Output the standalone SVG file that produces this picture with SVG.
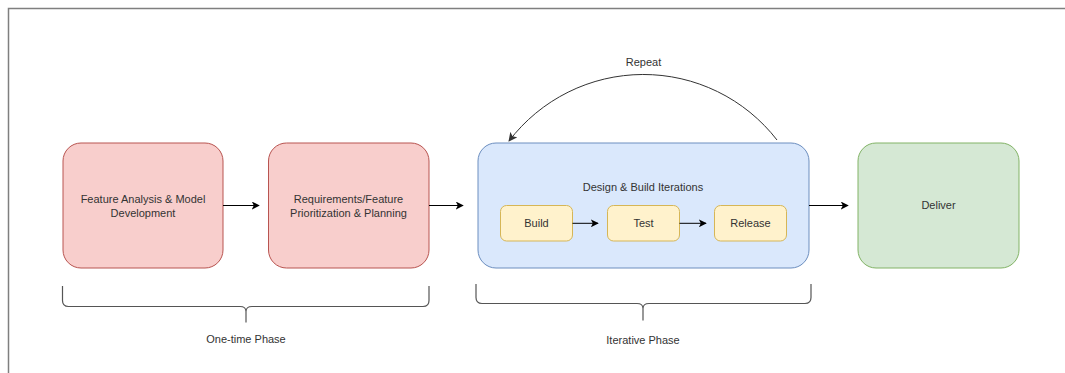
<svg xmlns="http://www.w3.org/2000/svg" width="1065" height="373" viewBox="0 0 1065 373">
  <style>
    .lbl { font-family: "Liberation Sans", Arial, sans-serif; font-size: 11px; fill: #333333; text-anchor: middle; }
    .red { fill: #f8cecc; stroke: #b85450; stroke-width: 1; }
    .blue { fill: #dae8fc; stroke: #6c8ebf; stroke-width: 1; }
    .yellow { fill: #fff2cc; stroke: #d6b656; stroke-width: 1; }
    .green { fill: #d5e8d4; stroke: #82b366; stroke-width: 1; }
    .edge { fill: none; stroke: #000000; stroke-width: 1; }
    .curve { fill: none; stroke: #333333; stroke-width: 1; }
    .brace { fill: none; stroke: #555555; stroke-width: 1.2; }
  </style>
  <defs>
    <marker id="arrow" viewBox="0 0 10 10" refX="9" refY="5" markerWidth="8" markerHeight="8" markerUnits="userSpaceOnUse" orient="auto">
      <path d="M0,0 L10,5 L0,10 L2.5,5 Z" fill="#000000"/>
    </marker>
    <marker id="arrowGray" viewBox="0 0 10 10" refX="9" refY="5" markerWidth="9" markerHeight="9" markerUnits="userSpaceOnUse" orient="auto">
      <path d="M0,0 L10,5 L0,10 L2.5,5 Z" fill="#333333"/>
    </marker>
  </defs>

  <rect width="1065" height="373" fill="#ffffff"/>
  <!-- frame edges -->
  <path d="M8.5,373 L8.5,8.5 L1065,8.5" fill="none" stroke="#7f7f7f" stroke-width="1.5"/>

  <g id="feature-analysis">
    <rect class="red" x="63" y="143" width="160" height="125" rx="18"/>
    <text class="lbl" x="143" y="203">Feature Analysis &amp; Model</text>
    <text class="lbl" x="143" y="216.5">Development</text>
  </g>

  <g id="requirements">
    <rect class="red" x="268.5" y="143" width="160.5" height="125" rx="18"/>
    <text class="lbl" x="348.5" y="203">Requirements/Feature</text>
    <text class="lbl" x="348.5" y="216.5">Prioritization &amp; Planning</text>
  </g>

  <g id="design-build">
    <rect class="blue" x="478" y="143" width="331" height="125" rx="18"/>
    <text class="lbl" x="643" y="190.5">Design &amp; Build Iterations</text>
  </g>

  <g id="build">
    <rect class="yellow" x="500.5" y="205.5" width="72" height="35.5" rx="6"/>
    <text class="lbl" x="536.5" y="227">Build</text>
  </g>

  <g id="test">
    <rect class="yellow" x="607.5" y="205.5" width="72" height="35.5" rx="6"/>
    <text class="lbl" x="643.5" y="227">Test</text>
  </g>

  <g id="release">
    <rect class="yellow" x="714.5" y="205.5" width="72" height="35.5" rx="6"/>
    <text class="lbl" x="750.5" y="227">Release</text>
  </g>

  <g id="deliver">
    <rect class="green" x="858" y="143" width="161" height="125" rx="18"/>
    <text class="lbl" x="938.5" y="209">Deliver</text>
  </g>

  <g id="connectors">
    <line class="edge" x1="223" y1="205.5" x2="259" y2="205.5" marker-end="url(#arrow)"/>
    <line class="edge" x1="429" y1="205.5" x2="463" y2="205.5" marker-end="url(#arrow)"/>
    <line class="edge" x1="809" y1="205.5" x2="848" y2="205.5" marker-end="url(#arrow)"/>
    <line class="edge" x1="572.5" y1="223.3" x2="598" y2="223.3" marker-end="url(#arrow)"/>
    <line class="edge" x1="679.5" y1="223.3" x2="706" y2="223.3" marker-end="url(#arrow)"/>
    <path class="curve" d="M777,140 A169,169 0 0 0 509,141" marker-end="url(#arrowGray)"/>
    <text class="lbl" x="643.5" y="66">Repeat</text>
  </g>

  <g id="one-time-phase">
    <path class="brace" d="M62.5,286 L62.5,300.5 Q62.5,306.5 68.5,306.5 L240,306.5 Q246,306.5 246,311.5 L246,322.5 M246,311.5 Q246,306.5 252,306.5 L423,306.5 Q429,306.5 429,300.5 L429,286"/>
    <text class="lbl" x="246" y="343">One-time Phase</text>
  </g>

  <g id="iterative-phase">
    <path class="brace" d="M476,284 L476,297.5 Q476,303.5 482,303.5 L637,303.5 Q643,303.5 643,308.5 L643,320.5 M643,308.5 Q643,303.5 649,303.5 L805,303.5 Q811,303.5 811,297.5 L811,284"/>
    <text class="lbl" x="643" y="344">Iterative Phase</text>
  </g>
</svg>
